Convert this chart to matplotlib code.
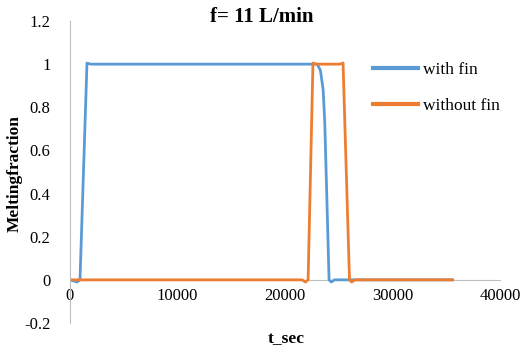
import matplotlib
matplotlib.use("Agg")
import matplotlib.pyplot as plt

# Data
t_with_fin = [0, 650, 930, 1580, 1900, 23000, 23300, 23550, 23700, 24100, 24300, 24600, 35500]
mf_with_fin = [0, -0.01, 0.0, 1.005, 1.0, 1.0, 0.97, 0.88, 0.73, 0.0, -0.01, 0.0, 0.0]

t_without_fin = [0, 21600, 21900, 22150, 22600, 22900, 25100, 25400, 26000, 26200, 26500, 35600]
mf_without_fin = [0, 0, -0.01, 0.0, 1.005, 1.0, 1.0, 1.005, 0.0, -0.01, 0.0, 0.0]

x_ticks = [0, 10000, 20000, 30000, 40000]
y_ticks = [-0.2, 0, 0.2, 0.4, 0.6, 0.8, 1, 1.2]
y_tick_labels = ["-0.2", "0", "0.2", "0.4", "0.6", "0.8", "1", "1.2"]

plt.rcParams['font.family'] = ['Liberation Serif', 'DejaVu Serif']

fig = plt.figure(figsize=(5.24, 3.49), dpi=100)
ax = fig.add_axes([70/524, 1 - 323/349, 430/524, 302/349])

blue = '#5B9BD5'
orange = '#ED7D31'
ax.plot(t_with_fin, mf_with_fin, color=blue, lw=2.0, label='with fin', solid_joinstyle='round')
ax.plot(t_without_fin, mf_without_fin, color=orange, lw=2.0, label='without fin', solid_joinstyle='round')

ax.set_xlim(0, 40000)
ax.set_ylim(-0.2, 1.2)
ax.set_xticks(x_ticks)
ax.set_xticklabels([str(v) for v in x_ticks])
ax.set_yticks(y_ticks)
ax.set_yticklabels(y_tick_labels)

for s in ['top', 'right']:
    ax.spines[s].set_visible(False)
ax.spines['bottom'].set_position(('data', 0))
ax.spines['bottom'].set_color('#BFBFBF')
ax.spines['left'].set_color('#BFBFBF')
ax.spines['bottom'].set_zorder(0)
ax.tick_params(axis='both', length=0, labelsize=12, colors='black')
ax.tick_params(axis='x', pad=6)
ax.tick_params(axis='y', pad=14)

fig.text(262/524, 1 - 17/349, 'f= 11 L/min', ha='center', va='center', fontsize=15, fontweight='bold')
fig.text(15/524, 1 - 174/349, 'Meltingfraction', ha='center', va='center', rotation=90, fontsize=12.5, fontweight='bold')
fig.text(286/524, 1 - 339/349, 't_sec', ha='center', va='center', fontsize=12.5, fontweight='bold')

leg = ax.legend(loc='upper left', bbox_to_anchor=(357/524, 1 - 46/349), bbox_transform=fig.transFigure,
                frameon=False, fontsize=12.5, handlelength=2.6, handletextpad=0.3, labelspacing=1.15)
for line in leg.get_lines():
    line.set_linewidth(3)

fig.savefig('out.png', dpi=100)
